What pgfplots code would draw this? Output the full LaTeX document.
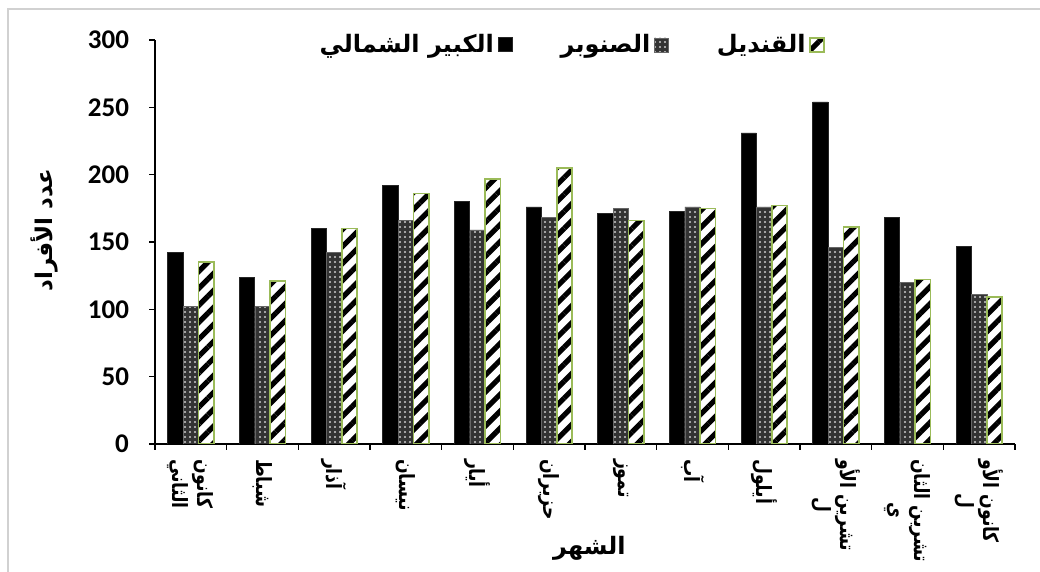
\documentclass[border=0pt]{standalone}
\usepackage{fontspec}
\setmainfont{Carlito}
\newfontfamily\arabicfont[Script=Arabic]{DejaVu Sans}
\newfontfamily\arabiccond[Script=Arabic,FakeStretch=0.82]{DejaVu Sans}
\usepackage{pgfplots}
\usepackage{pgfplotstable}
\pgfplotsset{compat=1.18}
\usetikzlibrary{patterns.meta}
\TeXXeTstate=1
\definecolor{hgreen}{HTML}{9BBB59}
\pgfplotsset{sqlegend/.style={legend image code/.code={\draw[##1] (0pt,-3.5pt) rectangle (7pt,3.5pt);}}}
\pgfplotstableread{
x a b c
0 142 102 135
1 124 102 121
2 160 142 160
3 192 166 186
4 180 159 197
5 176 168 205
6 171 175 166
7 173 176 175
8 231 176 177
9 254 146 161
10 168 120 122
11 147 111 109
}\datatable
\begin{document}
\begin{tikzpicture}
\useasboundingbox (0,0) rectangle (520pt,286pt);
\draw[black!18, line width=1pt] (4pt,0) -- (4pt,281.5pt) -- (520pt,281.5pt);
\begin{axis}[at={(77.5pt,64pt)}, anchor=south west, scale only axis,
  width=430pt, height=202pt,
  xmin=-0.5, xmax=11.5, ymin=0, ymax=300, ytick={0,50,...,300},
  axis x line*=bottom, axis y line*=left,
  axis line style={black, line width=0.8pt},
  tick align=outside, major tick length=3pt,
  tick style={black, line width=0.8pt},
  xtick={-0.5,0.5,...,11.5}, xticklabels={},
  extra x ticks={0,...,11},
  extra x tick style={major tick length=0pt,
    xticklabel style={yshift=-4pt, rotate=-90, anchor=west, align=center,
      font=\fontsize{10.5}{12.5}\selectfont}},
  extra x tick labels={
    {{\arabiccond\bfseries\beginR كانون\endR}\\{\arabiccond\bfseries\beginR الثاني\endR}},
    {\arabiccond\bfseries\beginR شباط\endR},
    {\arabiccond\bfseries\beginR آذار\endR},
    {\arabiccond\bfseries\beginR نيسان\endR},
    {\arabiccond\bfseries\beginR أيار\endR},
    {\arabiccond\bfseries\beginR حزيران\endR},
    {\arabiccond\bfseries\beginR تموز\endR},
    {\arabiccond\bfseries\beginR آب\endR},
    {\arabiccond\bfseries\beginR أيلول\endR},
    {{\arabiccond\bfseries\beginR تشرين الأو\endR}\\{\arabiccond\bfseries\beginR ل\endR}},
    {{\arabiccond\bfseries\beginR تشرين الثان\endR}\\{\arabiccond\bfseries\beginR ي\endR}},
    {{\arabiccond\bfseries\beginR كانون الأو\endR}\\{\arabiccond\bfseries\beginR ل\endR}}},
  yticklabel style={font=\fontsize{13.5}{16}\selectfont\bfseries, xshift=-6.5pt},
  /pgf/number format/assume math mode=true,
  ybar=0pt, bar width=7.7pt,
  xlabel={\arabicfont\bfseries\beginR الشهر\endR},
  xlabel style={at={(axis description cs:0.505,-0.257)}, anchor=center, font=\fontsize{12}{14}\selectfont},
  ylabel={\arabicfont\bfseries\beginR عدد الأفراد\endR},
  ylabel style={at={(axis description cs:-0.128,0.53)}, anchor=center, font=\fontsize{11.5}{14}\selectfont},
  legend style={at={(axis description cs:0.483,0.988)}, anchor=center,
    draw=none, fill=none, font=\fontsize{12}{14}\selectfont,
    /tikz/every even column/.append style={column sep=22pt}},
  legend columns=3, legend plot pos=right,
]
\addplot[fill=black, draw=black!85, line width=0.4pt, sqlegend] table[x=x,y=a] {\datatable};
\addlegendentry{\arabicfont\bfseries\beginR الكبير الشمالي\endR\hspace{3pt}}
\addplot[fill=black!80, draw=black!60, line width=0.3pt,
  postaction={pattern={Dots[distance=2.5pt,radius=0.55pt]}, pattern color=white!80!black}, sqlegend] table[x=x,y=b] {\datatable};
\addlegendentry{\arabicfont\bfseries\beginR الصنوبر\endR\hspace{3pt}}
\addplot[draw=hgreen, line width=0.8pt, fill=white,
  postaction={pattern={Lines[angle=45,distance=6pt,line width=2.6pt]}, pattern color=black}, sqlegend] table[x=x,y=c] {\datatable};
\addlegendentry{\arabicfont\bfseries\beginR القنديل\endR\hspace{3pt}}
\end{axis}
\end{tikzpicture}
\end{document}
